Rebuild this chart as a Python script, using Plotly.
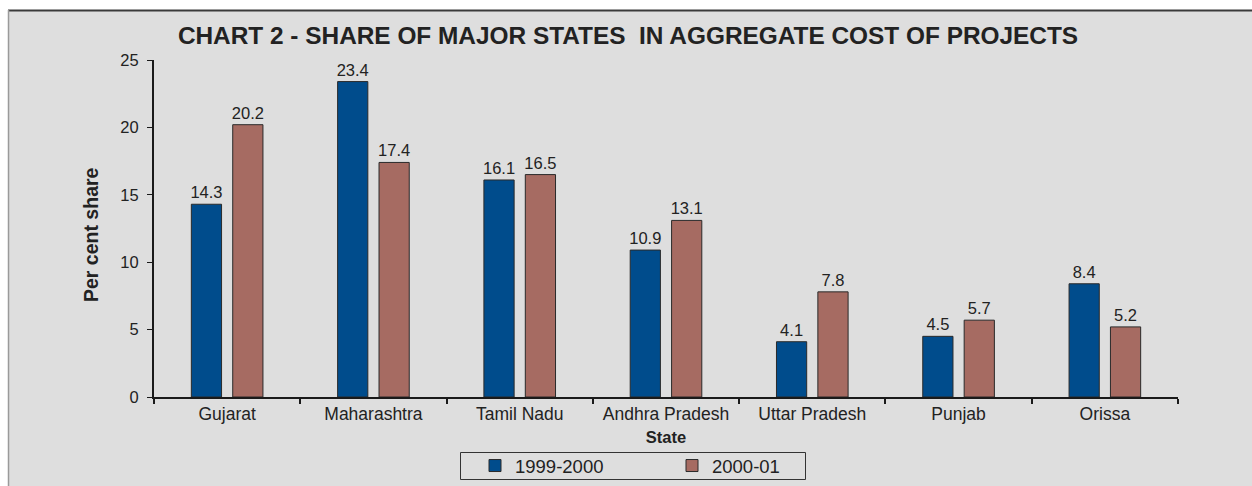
import plotly.graph_objects as go

states = ["Gujarat", "Maharashtra", "Tamil Nadu", "Andhra Pradesh", "Uttar Pradesh", "Punjab", "Orissa"]
share_1999_2000 = [14.3, 23.4, 16.1, 10.9, 4.1, 4.5, 8.4]
share_2000_01 = [20.2, 17.4, 16.5, 13.1, 7.8, 5.7, 5.2]
series_names = ["1999-2000", "2000-01"]
y_ticks = [0, 5, 10, 15, 20, 25]

W, H = 1252, 486
L, R, T, B = 154, 74, 60, 89
PW, PH = W - L - R, H - T - B

def px_x(px):
    return (px - L) / PW

def px_y(py):
    return (H - B - py) / PH

font_family = "Liberation Sans, Arial, sans-serif"
txt = "#222222"

fig = go.Figure()
fig.add_trace(go.Bar(
    x=states, y=share_1999_2000, name=series_names[0],
    marker=dict(color="#004C8C", line=dict(color="#2a2a2a", width=1)),
    text=[f"{v:.1f}" for v in share_1999_2000], textposition="outside",
    constraintext="none",
    textfont=dict(size=16.5, color=txt, family=font_family), cliponaxis=False,
))
fig.add_trace(go.Bar(
    x=states, y=share_2000_01, name=series_names[1],
    marker=dict(color="#A66B62", line=dict(color="#2a2a2a", width=1)),
    text=[f"{v:.1f}" for v in share_2000_01], textposition="outside",
    constraintext="none",
    textfont=dict(size=16.5, color=txt, family=font_family), cliponaxis=False,
))

shapes = [
    dict(type="rect", xref="paper", yref="paper", layer="below",
         x0=px_x(8), x1=px_x(1262), y0=px_y(500), y1=px_y(10),
         fillcolor="#DEDEDE", line=dict(width=0)),
    dict(type="line", xref="paper", yref="paper", layer="below",
         x0=px_x(8), x1=px_x(1262), y0=px_y(10.5), y1=px_y(10.5),
         line=dict(color="#3a3a3a", width=2)),
    dict(type="line", xref="paper", yref="paper", layer="below",
         x0=px_x(8.5), x1=px_x(8.5), y0=px_y(500), y1=px_y(10),
         line=dict(color="#9a9a9a", width=1.5)),
    # legend frame
    dict(type="rect", xref="paper", yref="paper", layer="below",
         x0=px_x(460.5), x1=px_x(805.5), y0=px_y(479.5), y1=px_y(452.5),
         fillcolor="rgba(0,0,0,0)", line=dict(color="#333333", width=1)),
]

annotations = [
    dict(text="<b>Per cent share</b>", textangle=-90, showarrow=False,
         xref="paper", yref="paper", x=px_x(91), y=px_y(235),
         xanchor="center", yanchor="middle",
         font=dict(size=19.5, color=txt, family=font_family)),
]

fig.update_layout(
    width=W, height=H,
    margin=dict(l=L, r=R, t=T, b=B, autoexpand=False),
    paper_bgcolor="white",
    plot_bgcolor="rgba(0,0,0,0)",
    font=dict(family=font_family, color=txt, size=16),
    title=dict(text="<b>CHART 2 - SHARE OF MAJOR STATES  IN AGGREGATE COST OF PROJECTS</b>",
               x=628 / W, xanchor="center", xref="container",
               y=1 - 35 / H, yanchor="middle", yref="container",
               font=dict(size=24.4, color=txt, family=font_family)),
    barmode="group",
    bargap=0.434,
    bargroupgap=0.27,
    showlegend=True,
    legend=dict(orientation="h", x=px_x(475), xanchor="left",
                y=px_y(466), yanchor="middle",
                bgcolor="rgba(0,0,0,0)", borderwidth=0,
                font=dict(size=18.5, color=txt, family=font_family),
                entrywidth=152, entrywidthmode="pixels"),
    shapes=shapes,
    annotations=annotations,
    xaxis=dict(
        type="category", range=[-0.5, 6.5],
        showline=True, linecolor="#1a1a1a", linewidth=2,
        ticks="outside", tickson="boundaries", ticklen=5, tickcolor="#1a1a1a", tickwidth=2,
        tickfont=dict(size=17.5, color=txt),
        showgrid=False, automargin=False,
        title=dict(text="<b>State</b>", font=dict(size=16.5, color=txt), standoff=8),
    ),
    yaxis=dict(
        range=[0, 25], tickvals=y_ticks,
        showline=True, linecolor="#1a1a1a", linewidth=2,
        ticks="outside", ticklen=5, tickcolor="#1a1a1a", tickwidth=1,
        tickfont=dict(size=16.5, color=txt), ticklabelstandoff=5,
        showgrid=False, zeroline=False, automargin=False,
    ),
)

fig.write_html("out.html")
